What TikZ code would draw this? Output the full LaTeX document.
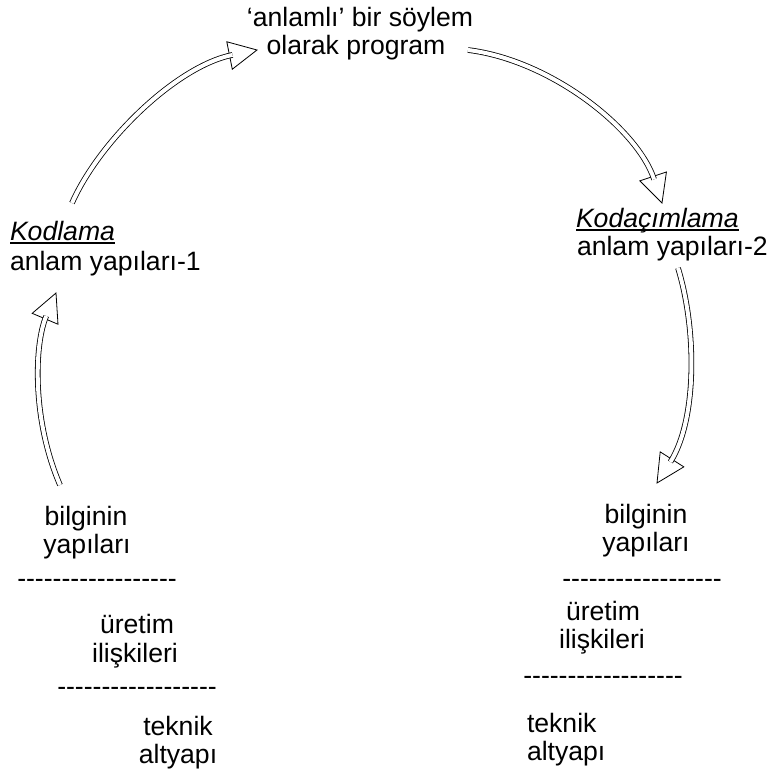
\documentclass[tikz,border=0pt]{standalone}
\usepackage{fontspec}
\setmainfont{Liberation Sans}
\usetikzlibrary{decorations.markings}
\newcommand{\ulin}[1]{\setbox0=\hbox{#1}\rlap{\rule[-4pt]{\wd0}{2pt}}\box0}
\newcommand{\hy}{-\kern0pt}
\newcommand{\dashrow}{\hy\hy\hy\hy\hy\hy\hy\hy\hy\hy\hy\hy\hy\hy\hy\hy\hy-}
\newcommand{\hollowarc}[4]{%
  \path[headmark] (#1) .. controls (#2) and (#3) .. (#4);
  \draw[shaftline] (#1) .. controls (#2) and (#3) .. (#4);
}
\begin{document}
\begin{tikzpicture}[x=1pt,y=-1pt,
  lbl/.style={inner sep=0pt, outer sep=0pt, font=\fontsize{26.6}{30}\selectfont},
  shaftline/.style={draw=black, line width=0.8pt, double=white, double distance=4pt, shorten >=25pt},
  headtri/.style={draw=black, fill=white, line width=0.8pt, line join=miter},
  headmark/.style={postaction={decorate}, decoration={markings,
     mark=at position 1 with {\draw[headtri] (0,0) -- (-28,14) -- (-28,-14) -- cycle;},
     mark=at position 0 with {\draw[line width=0.8pt] (-0.4,-2.8) -- (-0.4,2.8);}}}
]
\useasboundingbox (0,0) rectangle (773,776);

% top
\node[lbl, anchor=base] (top1) at (360,27) {‘anlamlı’ bir söylem};
\node[lbl, anchor=base] (top2) at (356,55) {olarak program};

% left middle
\node[lbl, anchor=base west] (kod) at (10,240) {\ulin{\textit{Kodlama}}};
\node[lbl, anchor=base west] (an1) at (10,270) {anlam yapıları-1};

% right middle
\node[lbl, anchor=base west] (kodac) at (576,227) {\ulin{\textit{Kodaçımlama}}};
\node[lbl, anchor=base west] (an2) at (577,255) {anlam yapıları-2};

% left bottom
\node[lbl, anchor=base] (lb1) at (86,525) {bilginin};
\node[lbl, anchor=base] (lb2) at (87,553) {yapıları};
\node[lbl, anchor=base] (ld1) at (97,587) {\dashrow};
\node[lbl, anchor=base] (lu1) at (137,633) {üretim};
\node[lbl, anchor=base] (lu2) at (135,662) {ilişkileri};
\node[lbl, anchor=base] (ld2) at (137,695) {\dashrow};
\node[lbl, anchor=base] (lt1) at (178,735) {teknik};
\node[lbl, anchor=base] (lt2) at (178,763) {altyapı};

% right bottom
\node[lbl, anchor=base] (rb1) at (646,523) {bilginin};
\node[lbl, anchor=base] (rb2) at (646,551) {yapıları};
\node[lbl, anchor=base] (rd1) at (642,587) {\dashrow};
\node[lbl, anchor=base] (ru1) at (603,620) {üretim};
\node[lbl, anchor=base] (ru2) at (602,648) {ilişkileri};
\node[lbl, anchor=base] (rd2) at (603,684) {\dashrow};
\node[lbl, anchor=base west] (rt1) at (527,732) {teknik};
\node[lbl, anchor=base west] (rt2) at (527,760) {altyapı};

% arrow coordinates
\coordinate (a1s) at (60,485);  \coordinate (a1c1) at (32,420); \coordinate (a1c2) at (34,345); \coordinate (a1e) at (56,293);
\coordinate (a2s) at (72,203);  \coordinate (a2c1) at (100,140); \coordinate (a2c2) at (177,66); \coordinate (a2e) at (257,50);
\coordinate (a3s) at (468,50);  \coordinate (a3c1) at (550,60); \coordinate (a3c2) at (637,128); \coordinate (a3e) at (662,203);
\coordinate (a4s) at (678,268); \coordinate (a4c1) at (697,330); \coordinate (a4c2) at (697,420); \coordinate (a4e) at (657,483);

\hollowarc{a1s}{a1c1}{a1c2}{a1e}
\hollowarc{a2s}{a2c1}{a2c2}{a2e}
\hollowarc{a3s}{a3c1}{a3c2}{a3e}
\hollowarc{a4s}{a4c1}{a4c2}{a4e}
\end{tikzpicture}
\end{document}
